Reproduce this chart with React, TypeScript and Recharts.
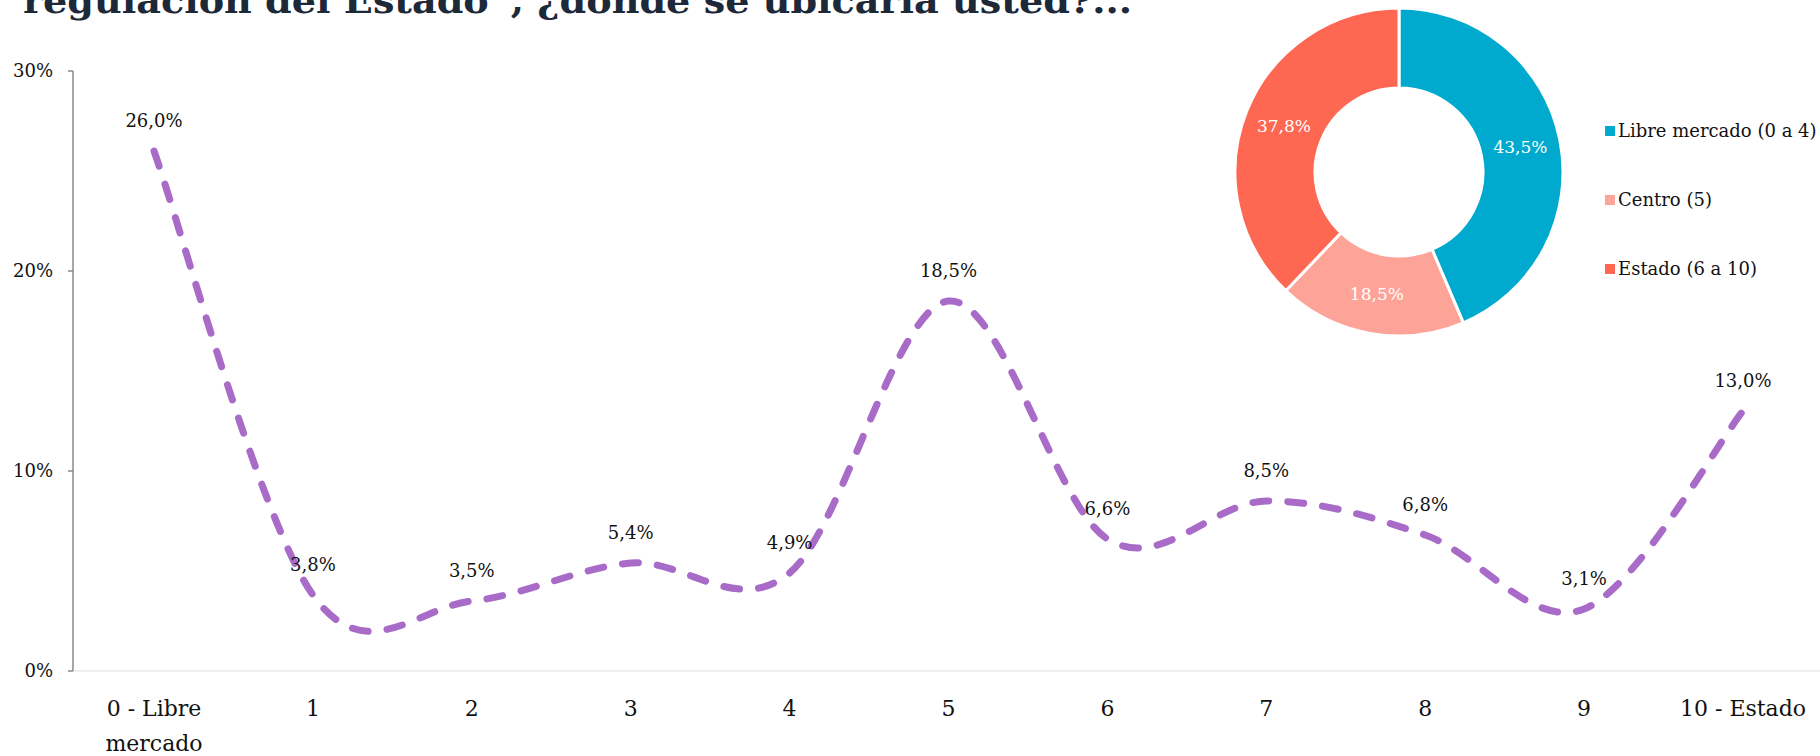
import React from 'react'
import { LineChart, Line, XAxis, YAxis, LabelList, PieChart, Pie, Cell, Legend } from 'recharts'

const categories = ['0 - Libre mercado', '1', '2', '3', '4', '5', '6', '7', '8', '9', '10 - Estado']
const shares = [26.0, 3.8, 3.5, 5.4, 4.9, 18.5, 6.6, 8.5, 6.8, 3.1, 13.0]
const yTicks = [0, 10, 20, 30]

const groupNames = ['Libre mercado (0 a 4)', 'Centro (5)', 'Estado (6 a 10)']
const groupShares = [43.5, 18.5, 37.8]
const groupColors = ['#00AACE', '#FDA397', '#FE6751']

const titleText = 'regulación del Estado”, ¿dónde se ubicaría usted?...'

const serif = '"DejaVu Serif", serif'
const fmt = (v: number) => v.toFixed(1).replace('.', ',') + '%'

const lineData = categories.map((cat, i) => ({ cat, v: shares[i] }))
const pieData = groupNames.map((name, i) => ({ name, value: groupShares[i] }))

// Excel-style smoothed line (cardinal bezier through every point)
function smoothCurve(context: any) {
  let pts: number[][] = []
  return {
    areaStart() {},
    areaEnd() {},
    lineStart() {
      pts = []
    },
    point(x: number, y: number) {
      pts.push([x, y])
    },
    lineEnd() {
      const n = pts.length
      if (!n) return
      context.moveTo(pts[0][0], pts[0][1])
      for (let i = 0; i < n - 1; i++) {
        const p0 = pts[Math.max(i - 1, 0)]
        const p1 = pts[i]
        const p2 = pts[i + 1]
        const p3 = pts[Math.min(i + 2, n - 1)]
        context.bezierCurveTo(
          p1[0] + (p2[0] - p0[0]) / 6,
          p1[1] + (p2[1] - p0[1]) / 6,
          p2[0] - (p3[0] - p1[0]) / 6,
          p2[1] - (p3[1] - p1[1]) / 6,
          p2[0],
          p2[1],
        )
      }
    },
  }
}

function splitLabel(s: string) {
  if (s.length <= 12) return [s]
  const k = s.lastIndexOf(' ')
  return [s.slice(0, k), s.slice(k + 1)]
}

function CatTick({ x, y, payload }: any) {
  const lines = splitLabel(String(payload.value))
  return (
    <text x={x} y={y} textAnchor="middle" fontSize={22} fontFamily={serif} fill="#111">
      {lines.map((l, i) => (
        <tspan key={i} x={x} dy={i === 0 ? 37 : 35}>
          {l}
        </tspan>
      ))}
    </text>
  )
}

// white labels sitting halfway through the ring
function SliceLabel({ cx, cy, midAngle, innerRadius, outerRadius, value }: any) {
  const r = (innerRadius + outerRadius) / 2
  const rad = (-midAngle * Math.PI) / 180
  return (
    <text
      x={cx + r * Math.cos(rad)}
      y={cy + r * Math.sin(rad)}
      textAnchor="middle"
      dominantBaseline="central"
      fontSize={17}
      fontFamily={serif}
      fill="#fff"
    >
      {fmt(value)}
    </text>
  )
}

function GroupLegend() {
  return (
    <div style={{ fontFamily: serif, fontSize: 18, color: '#111' }}>
      {groupNames.map((name, i) => (
        <div key={name} style={{ height: 69, display: 'flex', alignItems: 'center', whiteSpace: 'nowrap' }}>
          <span style={{ width: 10, height: 10, background: groupColors[i], marginRight: 3, display: 'inline-block' }} />
          {name}
        </div>
      ))}
    </div>
  )
}

export default function App() {
  return (
    <div style={{ position: 'absolute', left: 0, top: 0, width: 1820, height: 756, background: '#fff', overflow: 'hidden' }}>
      <svg width={1820} height={40} style={{ position: 'absolute', left: 0, top: 0 }}>
        <text x={23} y={13} fontSize={36} fontWeight="bold" fontFamily={serif} fill="#1D2838" textLength={1109} lengthAdjust="spacingAndGlyphs">
          {titleText}
        </text>
      </svg>

      <div style={{ position: 'absolute', left: 0, top: 0 }}>
        <LineChart width={1820} height={756} data={lineData} margin={{ top: 71, right: 0, bottom: 25, left: 0 }}>
          <XAxis
            dataKey="cat"
            interval={0}
            height={60}
            padding={{ left: 81, right: 77 }}
            axisLine={{ stroke: '#EFEFEF', strokeWidth: 2 }}
            tickLine={false}
            tick={<CatTick />}
          />
          <YAxis
            domain={[0, 30]}
            ticks={yTicks}
            width={73}
            tickFormatter={(v: number) => `${v}%`}
            axisLine={{ stroke: '#8A8A8A', strokeWidth: 1.5 }}
            tickLine={{ stroke: '#8A8A8A', strokeWidth: 1.5 }}
            tickSize={5}
            tickMargin={15}
            tick={{ fontSize: 18, fill: '#111', fontFamily: serif }}
          />
          <Line
            type={smoothCurve as any}
            dataKey="v"
            stroke="#A86BC8"
            strokeWidth={7}
            strokeDasharray="16 19"
            strokeLinecap="round"
            dot={false}
            isAnimationActive={false}
          >
            <LabelList
              dataKey="v"
              position="top"
              offset={24}
              formatter={(v: any) => fmt(Number(v))}
              style={{ fontSize: 18, fontFamily: serif, fill: '#111' }}
            />
          </Line>
        </LineChart>
      </div>

      <div style={{ position: 'absolute', left: 1220, top: 0 }}>
        <PieChart width={600} height={350} margin={{ top: 0, right: 0, bottom: 0, left: 0 }}>
          <Pie
            data={pieData}
            dataKey="value"
            nameKey="name"
            cx={179}
            cy={172}
            innerRadius={84}
            outerRadius={164}
            startAngle={90}
            endAngle={-270}
            stroke="#fff"
            strokeWidth={3}
            label={<SliceLabel />}
            labelLine={false}
            isAnimationActive={false}
          >
            {pieData.map((d, i) => (
              <Cell key={d.name} fill={groupColors[i]} />
            ))}
          </Pie>
          <Legend
            layout="vertical"
            align="right"
            verticalAlign="top"
            content={<GroupLegend />}
            wrapperStyle={{ left: 385, top: 96, width: 215, right: 'auto' }}
          />
        </PieChart>
      </div>
    </div>
  )
}
